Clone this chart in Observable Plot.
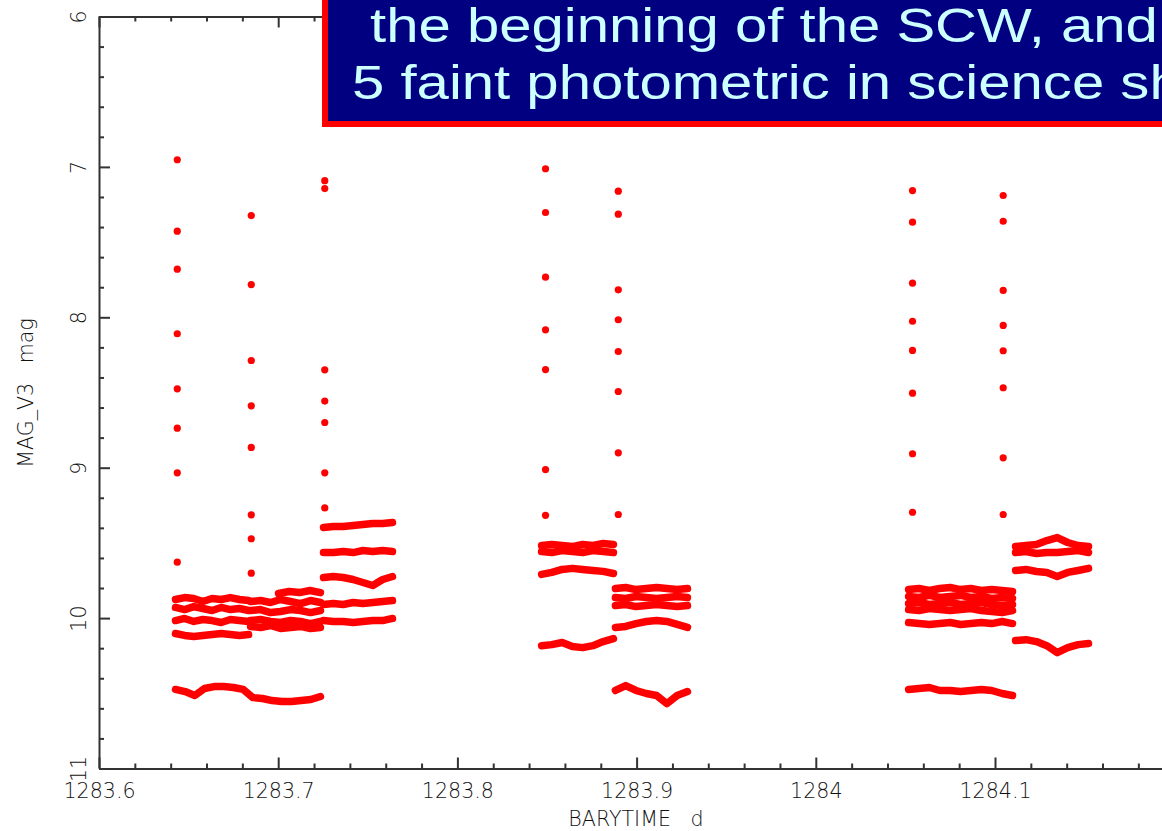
<!DOCTYPE html>
<html>
<head>
<meta charset="utf-8">
<script src="https://cdn.jsdelivr.net/npm/d3@7"></script>
<script src="https://cdn.jsdelivr.net/npm/@observablehq/plot@0.6"></script>
<style>
  html, body { margin: 0; padding: 0; background: #fff; overflow: hidden; }
  #chart { position: relative; width: 1162px; height: 831px; overflow: hidden; background: #fff; }
  #chart svg text { white-space: pre; }
  .note { position: absolute; left: 322px; top: -40px; width: 1000px; height: 167px;
          box-sizing: border-box; border: 6px solid #ff0000; background: #000080; }
  .note span { position: absolute; white-space: pre; font-family: "Liberation Sans", Arial, sans-serif;
               font-size: 48px; line-height: 48px; color: #ccffff;
               transform: scaleX(1.21); transform-origin: 0 0; }
</style>
</head>
<body>
<div id="chart">
  <div class="note">
    <span style="left:42px; top:36px">the beginning of the SCW, and</span>
    <span style="left:24px; top:93px">5 faint photometric in science shots</span>
  </div>
</div>
<script>
// Axis ticks and labels
const xMajor = [1283.6, 1283.7, 1283.8, 1283.9, 1284.0, 1284.1];
const xMajorLabels = ["1283.6", "1283.7", "1283.8", "1283.9", "1284", "1284.1"];
const yMajor = [6, 7, 8, 9, 10, 11];
const yMajorLabels = ["6", "7", "8", "9", "10", "11"];
const xLabel = "BARYTIME   d";
const yLabel = "MAG_V3   mag";

// Bright-star photometric shots at the start of each science window (one column per shot time)
const columnTimes = [1283.6434, 1283.6847, 1283.7257, 1283.8489, 1283.8895, 1284.0537, 1284.1043];
const columnMags = [
  [6.949, 7.424, 7.677, 8.106, 8.472, 8.734, 9.031, 9.625],
  [7.320, 7.779, 8.284, 8.585, 8.862, 9.310, 9.469, 9.698],
  [7.088, 7.141, 8.346, 8.554, 8.696, 9.031, 9.264],
  [7.009, 7.300, 7.730, 8.080, 8.344, 9.009, 9.313],
  [7.158, 7.311, 7.814, 8.013, 8.224, 8.490, 8.898, 9.308],
  [7.154, 7.364, 7.770, 8.023, 8.217, 8.501, 8.904, 9.293],
  [7.187, 7.358, 7.818, 8.051, 8.219, 8.465, 8.931, 9.308]
];

// Faint-star light curves during the science shots: time span and magnitudes of each track
const bandFrom = [
  1283.6424, 1283.6424, 1283.6424, 1283.6424, 1283.6424,
  1283.6999, 1283.6843, 1283.6843, 1283.6843, 1283.6843,
  1283.7250, 1283.7250, 1283.7250, 1283.7250, 1283.7250,
  1283.8467, 1283.8467, 1283.8467, 1283.8467,
  1283.8879, 1283.8879, 1283.8879, 1283.8879, 1283.8879,
  1284.0515, 1284.0515, 1284.0515, 1284.0515, 1284.0515, 1284.0515,
  1284.1112, 1284.1112, 1284.1112, 1284.1112
];
const bandTo = [
  1283.6832, 1283.6832, 1283.6832, 1283.6832, 1283.7233,
  1283.7233, 1283.7233, 1283.7233, 1283.7233, 1283.7233,
  1283.7635, 1283.7635, 1283.7635, 1283.7635, 1283.7635,
  1283.8868, 1283.8868, 1283.8868, 1283.8868,
  1283.9281, 1283.9281, 1283.9281, 1283.9281, 1283.9281,
  1284.1095, 1284.1095, 1284.1095, 1284.1095, 1284.1095, 1284.1095,
  1284.1519, 1284.1519, 1284.1519, 1284.1519
];
const bandMags = [
  [9.873, 9.860, 9.866, 9.886, 9.866, 9.873, 9.860, 9.873, 9.880],
  [9.926, 9.940, 9.920, 9.933, 9.946, 9.926, 9.940, 9.933, 9.946],
  [10.013, 9.999, 10.019, 10.006, 10.013, 10.026, 10.006, 10.013, 10.019],
  [10.099, 10.112, 10.119, 10.112, 10.106, 10.099, 10.106, 10.112, 10.106],
  [10.471, 10.485, 10.511, 10.465, 10.452, 10.452, 10.458, 10.471, 10.525, 10.531, 10.545, 10.551, 10.551, 10.545, 10.538, 10.518],
  [9.833, 9.820, 9.827, 9.813, 9.827],
  [9.886, 9.880, 9.893, 9.873, 9.886, 9.900, 9.880, 9.893],
  [9.946, 9.940, 9.960, 9.953, 9.940, 9.946, 9.960, 9.946],
  [10.013, 10.006, 10.019, 10.026, 10.013, 10.019, 10.033, 10.019],
  [10.052, 10.059, 10.046, 10.066, 10.059, 10.052, 10.066, 10.059],
  [9.394, 9.388, 9.388, 9.381, 9.374, 9.368, 9.368, 9.361],
  [9.561, 9.561, 9.554, 9.561, 9.547, 9.554, 9.547, 9.554],
  [9.727, 9.720, 9.727, 9.740, 9.760, 9.780, 9.740, 9.720],
  [9.906, 9.900, 9.906, 9.893, 9.900, 9.893, 9.886, 9.880],
  [10.013, 10.019, 10.019, 10.026, 10.019, 10.013, 10.013, 9.999],
  [9.514, 9.507, 9.514, 9.521, 9.507, 9.514, 9.501, 9.507],
  [9.554, 9.561, 9.547, 9.554, 9.561, 9.547, 9.554, 9.561],
  [9.706, 9.693, 9.673, 9.666, 9.673, 9.680, 9.686, 9.700],
  [10.180, 10.173, 10.159, 10.186, 10.193, 10.180, 10.153, 10.133],
  [9.800, 9.793, 9.807, 9.800, 9.793, 9.800, 9.807, 9.800],
  [9.860, 9.866, 9.853, 9.860, 9.866, 9.860, 9.853, 9.860],
  [9.913, 9.906, 9.920, 9.913, 9.906, 9.913, 9.920, 9.913],
  [10.059, 10.052, 10.033, 10.019, 10.013, 10.019, 10.039, 10.059],
  [10.478, 10.445, 10.478, 10.498, 10.511, 10.565, 10.511, 10.485],
  [9.807, 9.800, 9.813, 9.800, 9.793, 9.807, 9.800, 9.813, 9.807, 9.813, 9.820],
  [9.853, 9.860, 9.846, 9.860, 9.853, 9.846, 9.860, 9.853, 9.866, 9.860, 9.866],
  [9.900, 9.893, 9.906, 9.900, 9.893, 9.906, 9.900, 9.893, 9.906, 9.913, 9.906],
  [9.940, 9.946, 9.933, 9.940, 9.946, 9.940, 9.933, 9.946, 9.953, 9.960, 9.946],
  [10.026, 10.033, 10.039, 10.033, 10.026, 10.039, 10.033, 10.026, 10.033, 10.019, 10.033],
  [10.471, 10.465, 10.458, 10.478, 10.478, 10.485, 10.478, 10.471, 10.478, 10.498, 10.511],
  [9.521, 9.514, 9.507, 9.481, 9.461, 9.494, 9.514, 9.521],
  [9.561, 9.554, 9.567, 9.561, 9.561, 9.554, 9.547, 9.561],
  [9.680, 9.673, 9.687, 9.693, 9.720, 9.693, 9.680, 9.666],
  [10.146, 10.140, 10.153, 10.180, 10.226, 10.193, 10.173, 10.166]
];

// Tidy tables for the marks
const shots = columnTimes.flatMap((t, i) => columnMags[i].map(mag => ({t, mag})));
const tracks = bandMags.flatMap((mags, b) => mags.map((mag, j) => ({
  band: b,
  t: bandFrom[b] + (bandTo[b] - bandFrom[b]) * j / (mags.length - 1),
  mag
})));

const W = 1162, H = 831;
const M = {top: 16.5, right: 0, bottom: 62.5, left: 99};
const frameW = W - M.left - M.right;
const frameH = H - M.top - M.bottom;
const xMinor = d3.range(1283.6, 1284.2, 0.02).filter(v => !xMajor.some(m => Math.abs(m - v) < 1e-6));
const yMinor = d3.range(6, 11, 0.2).filter(v => !yMajor.some(m => Math.abs(m - v) < 1e-6));
const axisColor = "#333";
const dataColor = "#ff0000";

const chart = Plot.plot({
  width: W,
  height: H,
  marginTop: M.top,
  marginRight: M.right,
  marginBottom: M.bottom,
  marginLeft: M.left,
  style: {fontFamily: "'DejaVu Sans', sans-serif", fontSize: "20.6px", fontWeight: 200, color: "#111", background: "#fff"},
  x: {domain: [1283.6, 1283.6 + frameW / 1792]},
  y: {domain: [6, 11], reverse: true},
  marks: [
    // frame lines (left, top, bottom)
    Plot.ruleX([1283.6], {stroke: axisColor, strokeWidth: 2}),
    Plot.ruleY([6, 11], {stroke: axisColor, strokeWidth: 2}),
    // inward ticks on bottom and top
    Plot.tickX(xMajor, {x: d => d, insetTop: frameH - 11, stroke: axisColor, strokeWidth: 2}),
    Plot.tickX(xMinor, {x: d => d, insetTop: frameH - 5, stroke: axisColor, strokeWidth: 2}),
    Plot.tickX(xMajor, {x: d => d, insetBottom: frameH - 11, stroke: axisColor, strokeWidth: 2}),
    Plot.tickX(xMinor, {x: d => d, insetBottom: frameH - 5, stroke: axisColor, strokeWidth: 2}),
    // inward ticks on the left
    Plot.tickY(yMajor, {y: d => d, insetRight: frameW - 11, stroke: axisColor, strokeWidth: 2}),
    Plot.tickY(yMinor, {y: d => d, insetRight: frameW - 5, stroke: axisColor, strokeWidth: 2}),
    // tick labels
    Plot.axisX(xMajor, {tickSize: 0, tickPadding: 14, tickFormat: d => xMajorLabels[xMajor.indexOf(d)], label: null}),
    Plot.axisY(yMajor, {tickSize: 0, tickPadding: 14, tickRotate: -90, tickFormat: d => yMajorLabels[yMajor.indexOf(d)], label: null}),
    // axis titles
    Plot.text([xLabel], {text: d => d, frameAnchor: "bottom", dy: 42, dx: 5, lineAnchor: "top"}),
    Plot.text([yLabel], {text: d => d, frameAnchor: "left", dx: -81, rotate: -90, textAnchor: "middle", lineAnchor: "top"}),
    // faint-star tracks
    Plot.line(tracks, {x: "t", y: "mag", z: "band", stroke: dataColor, strokeWidth: 7.5,
                       strokeLinecap: "round", strokeLinejoin: "round"}),
    // bright-star shots
    Plot.dot(shots, {x: "t", y: "mag", r: 3.6, fill: dataColor, stroke: null})
  ]
});

document.getElementById("chart").prepend(chart);
</script>
</body>
</html>
